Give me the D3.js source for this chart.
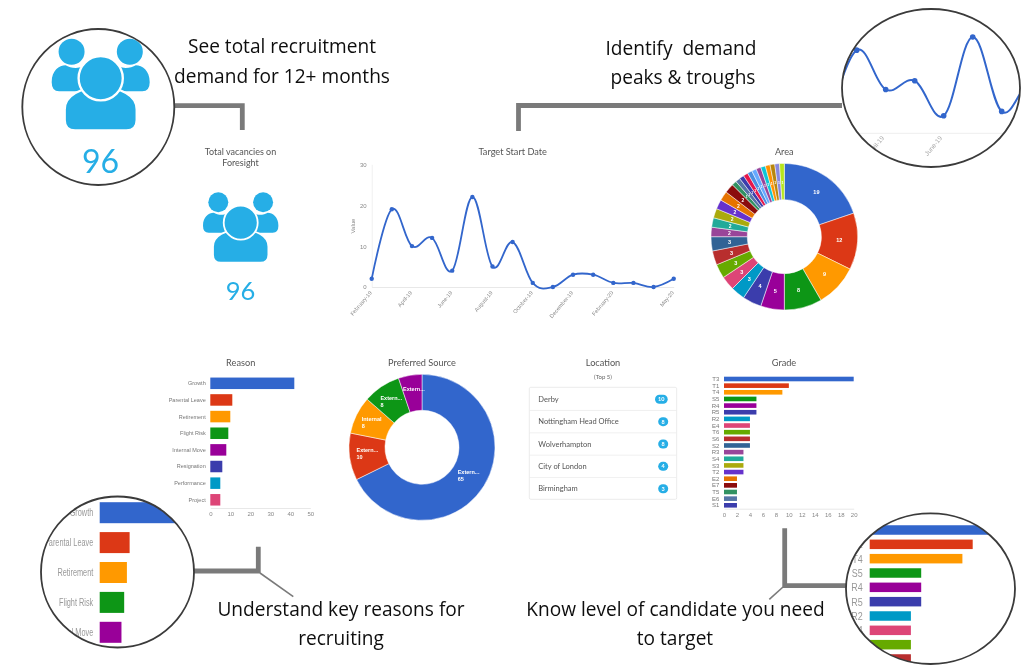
<!DOCTYPE html>
<html><head><meta charset="utf-8">
<script src="https://cdn.jsdelivr.net/npm/d3@7"></script>
<style>html,body{margin:0;padding:0;background:#fff;overflow:hidden}svg{display:block}</style>
</head><body><svg id="c" width="1024" height="669"></svg>
<script>
const palette=["#3366cc","#dc3912","#ff9900","#109618","#990099","#3b3eac","#0099c6","#dd4477","#66aa00","#b82e2e","#316395","#994499","#22aa99","#aaaa11","#6633cc","#e67300","#8b0707","#329262","#5574a6","#3b3eac"];
const areaExtra=["#e6194b","#4c8fe0","#66aaff","#994499","#11c6d7","#ff9100","#b8860b","#8888dd","#b5e61d"];
const totalVacancies=96;
const lineMonths=["February-19","","April-19","","June-19","","August-19","","October-19","","December-19","","February-20","","","May-20"];
const lineValues=[2,19,10,12,4,22,5,11,1,0,3,3,1,1,0,2];
const lineTicks=[0,10,20,30];
const areaValues=[19,12,9,8,5,4,3,3,3,3,3,2,2,2,2,2,2,1,1,1,1,1,1,1,1,1,1,1,1];
const reasonNames=["Growth","Parental Leave","Retirement","Flight Risk","Internal Move","Resignation","Performance","Project"];
const reasonValues=[42,11,10,9,8,6,5,5];
const reasonTicks=[0,10,20,30,40,50];
const sourceNames=["Extern...","Extern...","Internal","Extern...","Extern..."];
const sourceValues=[65,10,8,8,5];
const locationNames=["Derby","Nottingham Head Office","Wolverhampton","City of London","Birmingham"];
const locationValues=[10,8,8,4,3];
const gradeNames=["T3","T1","T4","S5","R4","R5","R2","E4","T6","S6","S2","R3","S4","S3","T2","E2","E7","T5","E6","S1"];
const gradeValues=[20,10,9,5,5,5,4,4,4,4,4,3,3,3,3,2,2,2,2,2];
const gradeTicks=[0,2,4,6,8,10,12,14,16,18,20];

const svg=d3.select("#c");
const LATO="Lato, sans-serif", ARIAL="'Liberation Sans', Arial, sans-serif", OS="'Open Sans', sans-serif";
const BLUE="#25aee6";
const defs=svg.append("defs");
defs.append("filter").attr("id","soft").attr("x","-5%").attr("y","-5%").attr("width","110%").attr("height","110%")
  .append("feGaussianBlur").attr("stdDeviation",0.45);

const root=svg.append("g").attr("filter","url(#soft)");

function title(t,x,y,size=9.2){root.append("text").attr("x",x).attr("y",y).attr("text-anchor","middle")
  .attr("font-family",LATO).attr("font-size",size).attr("fill","#555").text(t);}

function icon(g,cx,cy,s){
  const i=g.append("g").attr("transform",`translate(${cx},${cy}) scale(${s})`).attr("fill",BLUE);
  [1,-1].forEach(m=>{
    const h=i.append("g").attr("transform",`scale(${m},1)`);
    h.append("path").attr("d","M-37.7,3 C-37.7,-6 -32,-10 -27,-10 C-24,-8 -18,-7 -14,-9 L-10,10 L-32,10 Q-37.7,10 -37.7,3Z");
    h.append("circle").attr("cx",-22.4).attr("cy",-20.4).attr("r",10);
  });
  i.append("path").attr("d","M-27.7,24 C-27.7,13 -15,7 0,7 C15,7 27.7,13 27.7,24 L27.7,32 Q27.7,40 19.7,40 L-19.7,40 Q-27.7,40 -27.7,32 Z").attr("stroke","#fff").attr("stroke-width",1.8);
  i.append("circle").attr("r",17).attr("stroke","#fff").attr("stroke-width",1.8);
}

// ---- connectors
const connect=[
 {p:[[174,105.7],[242.3,105.7],[242.3,130]],w:4.8},
 {p:[[518.5,131],[518.5,105.5],[842,105.5]],w:4.8},
 {p:[[194,571],[258.3,571],[258.3,546.7]],w:4.8},
 {p:[[260,573],[293.3,596.7]],w:1.6},
 {p:[[784.7,528.3],[784.7,585.7],[846,585.7]],w:4.8},
 {p:[[783,587],[769.3,599.3]],w:1.6}];
connect.forEach(c=>root.append("path").attr("d",d3.line()(c.p)).attr("fill","none").attr("stroke","#7a7a7a").attr("stroke-width",c.w).attr("stroke-linejoin","miter"));

// ---- captions
[["See total recruitment",282,53],["demand for 12+ months",282,83],["Identify  demand",681,55],["peaks & troughs",683,84],
 ["Understand key reasons for",341,616],["recruiting",341,645],["Know level of candidate you need",675.5,616],["to target",675,645]]
 .forEach(d=>root.append("text").attr("x",d[1]).attr("y",d[2]).attr("text-anchor","middle").style("white-space","pre")
   .attr("font-family",OS).attr("font-size",19.1).attr("fill","#111").text(d[0]));

// ---- total vacancies
title("Total vacancies on",240.5,155,9);title("Foresight",240.5,166,9);
icon(root,240.7,222.7,1);
root.append("text").attr("x",240.5).attr("y",299.5).attr("text-anchor","middle").attr("font-family",LATO).attr("font-size",25.5).attr("fill",BLUE).text(totalVacancies);

// ---- line chart
title("Target Start Date",512.7,155);
const lx=d3.scaleLinear().domain([0,lineValues.length-1]).range([371.7,673.7]);
const ly=d3.scaleLinear().domain([0,30]).range([287,164.3]);
const curve=d3.curveCardinal.tension(-0.1);
function drawLine(g,x,y,w,r){
  g.append("path").datum(lineValues).attr("fill","none").attr("stroke","#3366cc").attr("stroke-width",w)
   .attr("d",d3.line().x((d,i)=>x(i)).y(d=>y(d)).curve(curve));
  g.selectAll(null).data(lineValues).join("circle").attr("cx",(d,i)=>x(i)).attr("cy",d=>y(d)).attr("r",r).attr("fill","#3366cc");
}
const lineG=root.append("g");
const yAxis=lineG.append("g").attr("transform","translate(371.7,0)").call(d3.axisLeft(ly).tickValues(lineTicks).tickSize(0).tickPadding(5));
yAxis.select(".domain").attr("stroke","#f0f0f0");
yAxis.selectAll("text").attr("font-family",ARIAL).attr("font-size",6).attr("fill","#888");
const xAxis=lineG.append("g").attr("transform","translate(0,287)")
  .call(d3.axisBottom(lx).tickValues(lineMonths.map((m,i)=>m?i:null).filter(v=>v!==null)).tickFormat(i=>lineMonths[i]).tickSize(0).tickPadding(0));
xAxis.select(".domain").attr("stroke","#e8e8e8");
xAxis.selectAll("text").attr("font-family",ARIAL).attr("font-size",5.5).attr("fill","#888")
  .attr("text-anchor","end").attr("dy",0).attr("transform","translate(0,6) rotate(-50)");
lineG.append("text").attr("transform","translate(354.5,226) rotate(-90)").attr("text-anchor","middle").attr("font-family",ARIAL).attr("font-size",6).attr("fill","#888").text("Value");
drawLine(lineG,lx,ly,1.8,2.2);

// ---- donuts
function donut(g,vals,colors,cx,cy,ro,ri,labelFn){
  const arcs=d3.pie().sort(null)(vals);
  const arc=d3.arc().innerRadius(ri).outerRadius(ro);
  const gg=g.append("g").attr("transform",`translate(${cx},${cy})`);
  gg.selectAll(null).data(arcs).join("path").attr("d",arc).attr("fill",(d,i)=>colors[i]).attr("stroke","#fff").attr("stroke-width",0.5);
  const mid=d3.arc().innerRadius((ri+ro)/2).outerRadius((ri+ro)/2);
  arcs.forEach((d,i)=>labelFn(gg,d,i,mid.centroid(d)));
}
title("Area",784.3,155);
donut(root,areaValues,palette.concat(areaExtra),784.3,236.7,73.3,37,(g,d,i,c)=>{
  const size=d.value>=3?5.5:(d.value==2?5:3.5);
  g.append("text").attr("x",c[0]).attr("y",c[1]+2).attr("text-anchor","middle").attr("font-family",ARIAL).attr("font-weight","bold").attr("font-size",size).attr("fill","#fff").text(d.value);
});
title("Preferred Source",422,366);
donut(root,sourceValues,palette,422,447.3,73,37,(g,d,i,c)=>{
  const t=g.append("text").attr("font-family",ARIAL).attr("font-weight","bold").attr("font-size",5.5).attr("fill","#fff");
  if(d.value>=8){
    t.append("tspan").attr("x",c[0]-11).attr("y",c[1]-2).text(sourceNames[i]);
    t.append("tspan").attr("x",c[0]-11).attr("y",c[1]+5).text(d.value);
  } else {
    t.attr("x",c[0]-10).attr("y",c[1]-2).text(sourceNames[i]);
  }
});

// ---- bars
function hbars(g,names,vals,x,yc,h,labelX,fs,labelFill,sx=1){
  g.selectAll(null).data(vals).join("rect").attr("x",x(0)).attr("y",(d,i)=>yc(i)-h/2).attr("width",d=>x(d)-x(0)).attr("height",h).attr("fill",(d,i)=>palette[i%palette.length]);
  g.selectAll(null).data(names).join("text").attr("transform",(d,i)=>`translate(${labelX},${yc(i)+fs*0.35}) scale(${sx},1)`).attr("text-anchor","end").attr("font-family",ARIAL).attr("font-size",fs).attr("fill",labelFill).text(d=>d);
}
function xAxisBottom(g,x,ticks,y){
  const a=g.append("g").attr("transform",`translate(0,${y})`).call(d3.axisBottom(x).tickValues(ticks).tickSize(0).tickPadding(4));
  a.select(".domain").attr("stroke","#e8e8e8");
  a.selectAll("text").attr("font-family",ARIAL).attr("font-size",6).attr("fill","#888");
}
title("Reason",240.7,366);
const rx=d3.scaleLinear().domain([0,50]).range([210.3,310.3]);
const ry=d3.scaleLinear().domain([0,7]).range([383.3,499.8]);
const rg=root.append("g");
hbars(rg,reasonNames,reasonValues,rx,ry,11.5,205.7,5.5,"#777");
xAxisBottom(rg,rx,reasonTicks,508);

title("Grade",784,366);
const gx=d3.scaleLinear().domain([0,20]).range([724,853.7]);
const gy=d3.scaleLinear().domain([0,19]).range([379,505.3]);
const gg=root.append("g");
hbars(gg,gradeNames,gradeValues,gx,gy,4.6,719.3,6,"#777");
xAxisBottom(gg,gx,gradeTicks,508.7);

// ---- location table
title("Location",603,366);
root.append("text").attr("x",603).attr("y",379.3).attr("text-anchor","middle").attr("font-family",LATO).attr("font-size",6).attr("fill","#666").text("(Top 5)");
root.append("rect").attr("x",529.3).attr("y",387.3).attr("width",147.4).attr("height",112).attr("rx",1.5).attr("fill","#fff").attr("stroke","#e6e6e6").attr("stroke-width",0.8);
const locY=d3.scaleLinear().domain([0,4]).range([399.3,488.7]);
const loc=root.append("g");
loc.selectAll(null).data(locationNames.slice(1)).join("line").attr("x1",529.3).attr("x2",676.7)
  .attr("y1",(d,i)=>locY(i+0.5)).attr("y2",(d,i)=>locY(i+0.5)).attr("stroke","#ececec").attr("stroke-width",0.8);
loc.selectAll(null).data(locationNames).join("text").attr("x",538.3).attr("y",(d,i)=>locY(i)+2.6).attr("font-family",LATO).attr("font-size",7.5).attr("fill","#555").text(d=>d);
loc.selectAll(null).data(locationValues).join("rect").attr("x",d=>d>=10?655:658.2).attr("y",(d,i)=>locY(i)-4.5).attr("width",d=>d>=10?12.7:10).attr("height",9).attr("rx",4.5).attr("fill",BLUE);
loc.selectAll(null).data(locationValues).join("text").attr("x",d=>d>=10?661.3:663.2).attr("y",(d,i)=>locY(i)+1.9).attr("text-anchor","middle").attr("font-family",LATO).attr("font-weight","bold").attr("font-size",5.5).attr("fill","#fff").text(d=>d);

// ---- magnifiers
function lens(id,cx,cy,rx_,ry_){
  defs.append("clipPath").attr("id",id).append("ellipse").attr("cx",cx).attr("cy",cy).attr("rx",rx_).attr("ry",ry_);
  root.append("ellipse").attr("cx",cx).attr("cy",cy).attr("rx",rx_).attr("ry",ry_).attr("fill","#fff");
  const g=root.append("g").attr("clip-path",`url(#${id})`);
  const ring=()=>root.append("ellipse").attr("cx",cx).attr("cy",cy).attr("rx",rx_).attr("ry",ry_).attr("fill","none").attr("stroke","#3a3a3a").attr("stroke-width",1.8);
  return {g,ring};
}
// lens 1
const l1=lens("l1",98.3,107,76,78);
icon(l1.g,100.7,78.3,1.3);
l1.g.append("text").attr("x",100.5).attr("y",172.5).attr("text-anchor","middle").attr("font-family",LATO).attr("font-size",32).attr("fill",BLUE).text(totalVacancies);
l1.ring();
// lens 2
const l2=lens("l2",931,88,89,79);
const l2x=d3.scaleLinear().domain([1,5]).range([856.7,972.7]);
const l2y=d3.scaleLinear().domain([0,22]).range([133.3,37]);
l2.g.append("line").attr("x1",840).attr("x2",1024).attr("y1",l2y(0)).attr("y2",l2y(0)).attr("stroke","#eee");
[2,4].forEach(i=>l2.g.append("text").attr("transform",`translate(${l2x(i)-1},${l2y(0)+5}) rotate(-50)`).attr("text-anchor","end").attr("font-family",ARIAL).attr("font-size",6.5).attr("fill","#aaa").text(lineMonths[i]));
drawLine(l2.g,l2x,l2y,2,2.8);
l2.ring();
// lens 3
const l3=lens("l3",117.5,572,76.5,75.5);
const l3x=d3.scaleLinear().domain([0,10]).range([99.7,126.9]);
const l3y=d3.scaleLinear().domain([0,4]).range([512.7,632.3]);
hbars(l3.g,reasonNames.slice(0,5),reasonValues.slice(0,5),l3x,l3y,21,93.3,10.5,"#999",0.7);
l3.ring();
// lens 4
const l4=lens("l4",930.5,588.7,84.5,75.3);
const l4x=d3.scaleLinear().domain([0,10]).range([869.7,972.7]);
const l4y=d3.scaleLinear().domain([0,9]).range([530,659]);
hbars(l4.g,gradeNames.slice(0,10),gradeValues.slice(0,10),l4x,l4y,9.5,862.7,11.5,"#999",0.78);
l4.ring();
</script></body></html>
